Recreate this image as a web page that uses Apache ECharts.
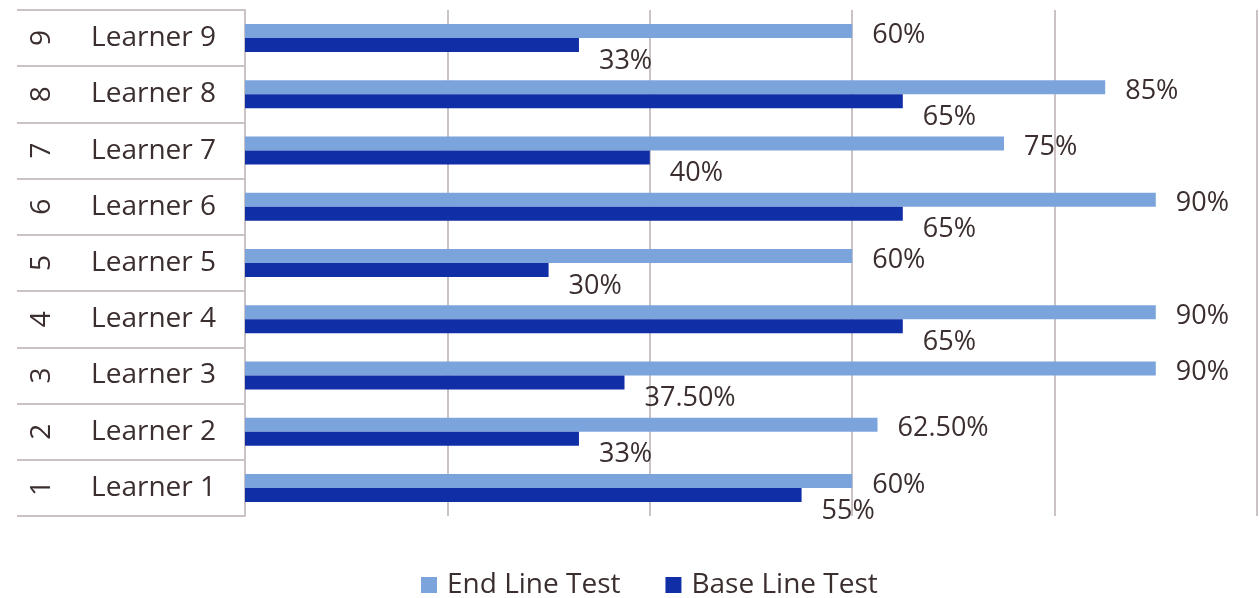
<!DOCTYPE html>
<html>
<head>
<meta charset="utf-8">
<script src="https://cdn.jsdelivr.net/npm/echarts@6/dist/echarts.min.js"></script>
<style>
  html, body { margin: 0; padding: 0; background: #fff; }
  #chart { width: 1259px; height: 598px; }
</style>
</head>
<body>
<div id="chart"></div>
<script>
var learners = ['Learner 1', 'Learner 2', 'Learner 3', 'Learner 4', 'Learner 5', 'Learner 6', 'Learner 7', 'Learner 8', 'Learner 9'];
var numbers = ['1', '2', '3', '4', '5', '6', '7', '8', '9'];
var endLine = [60, 62.5, 90, 90, 60, 90, 75, 85, 60];
var baseLine = [55, 33, 37.5, 65, 30, 65, 40, 65, 33];
var xTicks = [0, 20, 40, 60, 80, 100];

var textColor = '#3b2e2e';
var fontFamily = '"Open Sans", "Noto Sans", sans-serif';

function pct(p) {
    var v = p.value;
    return (Number.isInteger(v) ? v : v.toFixed(2)) + '%';
}

var chart = echarts.init(document.getElementById('chart'));
var option = {
    animation: false,
    textStyle: { fontFamily: fontFamily },
    grid: { left: 245, right: 2, top: 10, bottom: 82 },
    legend: {
        top: 566,
        left: 416,
        icon: 'rect',
        itemWidth: 16,
        itemHeight: 16,
        itemGap: 45,
        textStyle: { fontSize: 28, color: textColor, fontFamily: fontFamily, padding: [0, 0, 0, 5] },
        data: ['End Line Test', 'Base Line Test']
    },
    xAxis: {
        type: 'value',
        min: xTicks[0],
        max: xTicks[xTicks.length - 1],
        interval: 20,
        axisLabel: { show: false },
        axisLine: { show: false },
        axisTick: { show: false },
        splitLine: { show: true, lineStyle: { color: '#cbc3c3', width: 2 } }
    },
    yAxis: [{
        type: 'category',
        data: learners,
        axisLine: { show: true, lineStyle: { color: '#cbc3c3', width: 2 } },
        axisTick: { show: true, length: 228, lineStyle: { color: '#cbc3c3', width: 2 } },
        axisLabel: { margin: 29, fontSize: 28, color: textColor, fontFamily: fontFamily }
    }, {
        type: 'category',
        position: 'left',
        data: numbers,
        axisLine: { show: false },
        axisTick: { show: false },
        axisLabel: { margin: 189, rotate: 90, fontSize: 28, color: textColor, fontFamily: fontFamily }
    }],
    series: [{
        name: 'End Line Test',
        type: 'bar',
        data: endLine,
        barWidth: 14,
        barGap: '0%',
        itemStyle: { color: '#7ca4dc' },
        label: {
            show: true, position: 'right', distance: 20, offset: [0, 4],
            fontSize: 27, color: textColor, fontFamily: fontFamily,
            formatter: pct
        }
    }, {
        name: 'Base Line Test',
        type: 'bar',
        data: baseLine,
        barWidth: 14,
        barGap: '0%',
        itemStyle: { color: '#102ea6' },
        label: {
            show: true, position: 'right', distance: 20, offset: [0, 16],
            fontSize: 27, color: textColor, fontFamily: fontFamily,
            formatter: pct
        }
    }]
};
chart.setOption(option);
</script>
</body>
</html>
